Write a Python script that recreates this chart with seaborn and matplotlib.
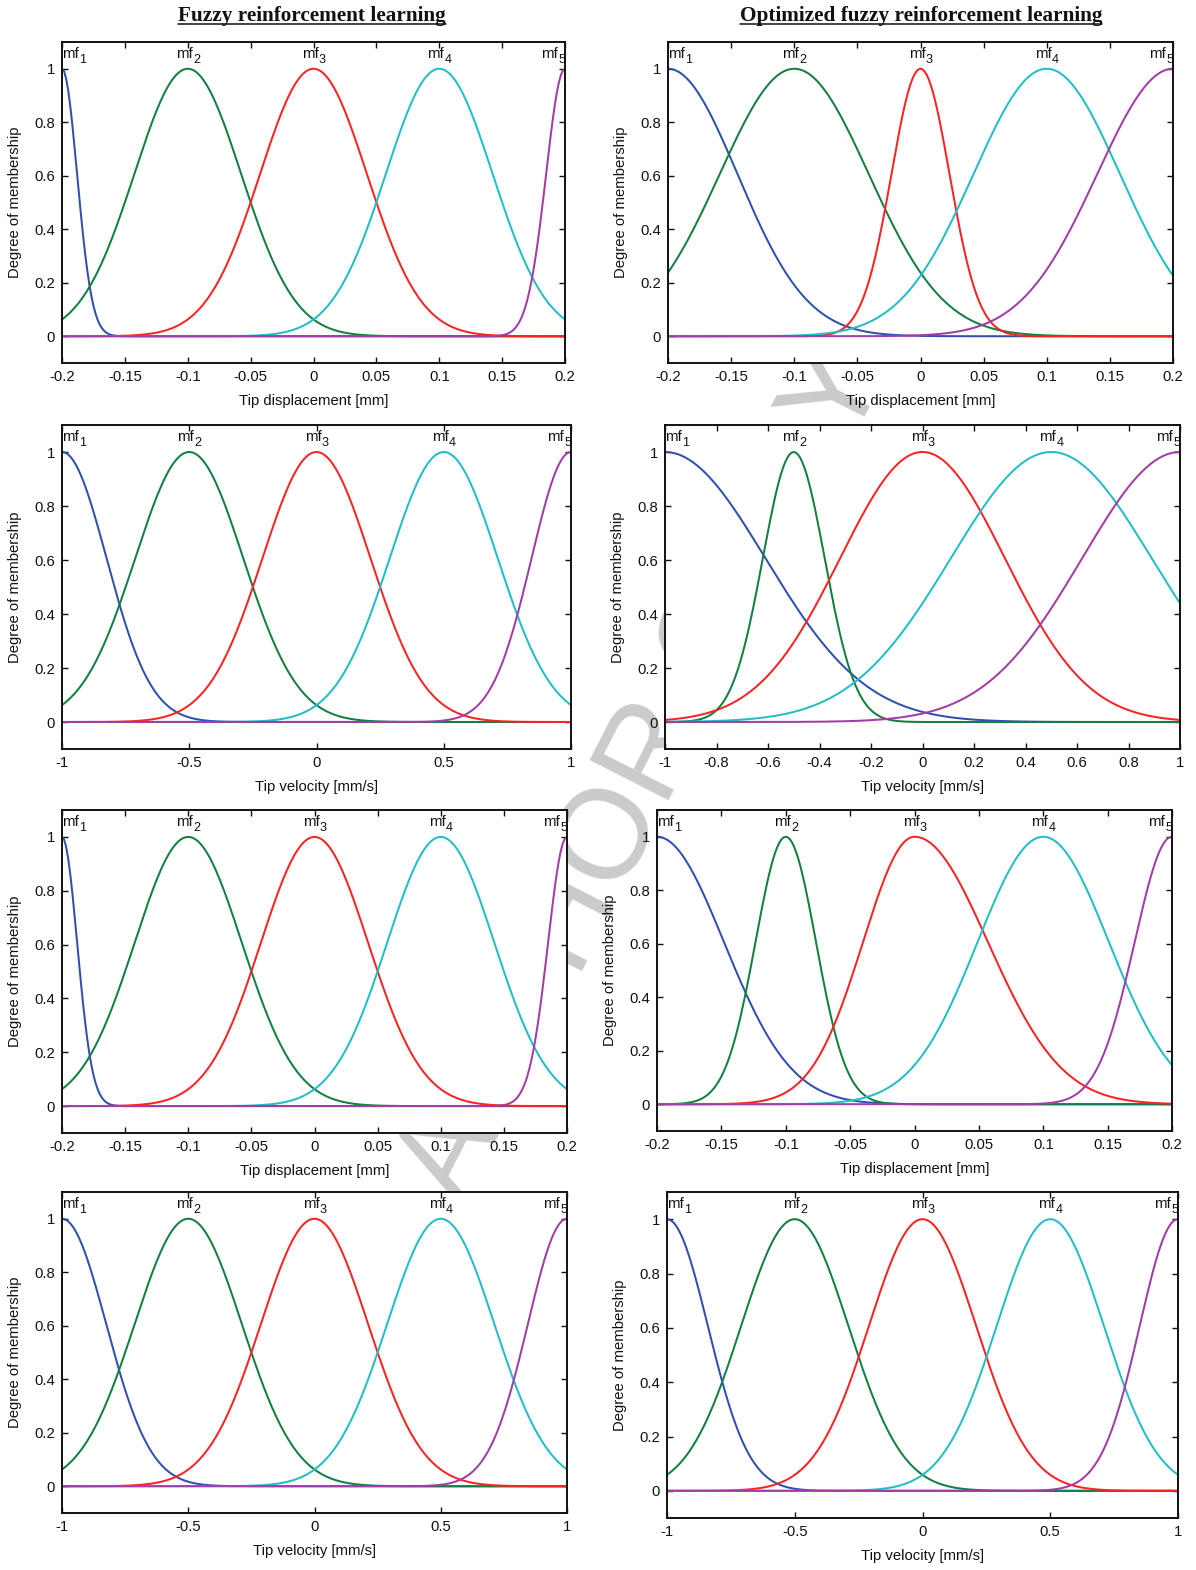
import numpy as np
import pandas as pd
import matplotlib
matplotlib.use("Agg")
import matplotlib.pyplot as plt
from matplotlib.lines import Line2D
from matplotlib.font_manager import FontProperties
from matplotlib.transforms import offset_copy
import seaborn as sns

# ---------------------------------------------------------------------------
# Membership-function parameters (Gaussian: centre, left / right spread)
# ---------------------------------------------------------------------------
mf_names = ["mf1", "mf2", "mf3", "mf4", "mf5"]
mf_colors = ["#3050b0", "#128040", "#f82424", "#22bec6", "#a23ca6"]

disp_range = [-0.2, 0.2]
vel_range = [-1.0, 1.0]
disp_ticks = [-0.2, -0.15, -0.1, -0.05, 0, 0.05, 0.1, 0.15, 0.2]
vel_ticks_coarse = [-1, -0.5, 0, 0.5, 1]
vel_ticks_fine = [-1, -0.8, -0.6, -0.4, -0.2, 0, 0.2, 0.4, 0.6, 0.8, 1]
degree_ticks = [0, 0.2, 0.4, 0.6, 0.8, 1]

# Fuzzy reinforcement learning – tip displacement
frl_disp_centers = [-0.2, -0.1, 0.0, 0.1, 0.2]
frl_disp_sigma_l = [0.012, 0.0425, 0.0425, 0.0425, 0.015]
frl_disp_sigma_r = [0.012, 0.0425, 0.0425, 0.0425, 0.015]

# Fuzzy reinforcement learning – tip velocity
frl_vel_centers = [-1.0, -0.5, 0.0, 0.5, 1.0]
frl_vel_sigma_l = [0.175, 0.2123, 0.2123, 0.2123, 0.155]
frl_vel_sigma_r = [0.175, 0.2123, 0.2123, 0.2123, 0.155]

# Optimized FRL – tip displacement (first set)
ofrl_disp1_centers = [-0.2, -0.1, 0.0, 0.1, 0.2]
ofrl_disp1_sigma_l = [0.055, 0.059, 0.023, 0.058, 0.060]
ofrl_disp1_sigma_r = [0.055, 0.059, 0.023, 0.058, 0.060]

# Optimized FRL – tip velocity (first set)
ofrl_vel1_centers = [-1.0, -0.5, 0.0, 0.5, 1.0]
ofrl_vel1_sigma_l = [0.39, 0.12, 0.32, 0.39, 0.38]
ofrl_vel1_sigma_r = [0.39, 0.12, 0.32, 0.39, 0.38]

# Optimized FRL – tip displacement (second set)
ofrl_disp2_centers = [-0.2, -0.1, 0.0, 0.1, 0.2]
ofrl_disp2_sigma_l = [0.052, 0.0235, 0.040, 0.051, 0.029]
ofrl_disp2_sigma_r = [0.052, 0.0235, 0.057, 0.051, 0.029]

# Optimized FRL – tip velocity (second set)
ofrl_vel2_centers = [-1.0, -0.5, 0.0, 0.5, 1.0]
ofrl_vel2_sigma_l = [0.16, 0.21, 0.21, 0.21, 0.15]
ofrl_vel2_sigma_r = [0.16, 0.21, 0.21, 0.21, 0.15]

column_titles = ["Fuzzy reinforcement learning",
                 "Optimized fuzzy reinforcement learning"]
ylabel_text = "Degree of membership"
xlabel_disp = "Tip displacement [mm]"
xlabel_vel = "Tip velocity [mm/s]"
watermark_text = "AUTHOR COPY"

# ---------------------------------------------------------------------------
sns.set_style("ticks")
plt.rcParams["font.family"] = ["Liberation Sans", "DejaVu Sans"]
plt.rcParams["axes.unicode_minus"] = False
for key in ["text.color", "axes.labelcolor", "xtick.color", "ytick.color",
            "axes.edgecolor"]:
    plt.rcParams[key] = "#111111"

W, H = 1196, 1570
fig = plt.figure(figsize=(W / 100, H / 100), dpi=100)
fig.patch.set_facecolor("white")
renderer = fig.canvas.get_renderer()


def rect(x0, x1, y0, y1):
    return [x0 / W, 1 - y1 / H, (x1 - x0) / W, (y1 - y0) / H]


panels = [
    # left column
    dict(rect=rect(62, 565, 42, 363), c=frl_disp_centers, sl=frl_disp_sigma_l,
         sr=frl_disp_sigma_r, xr=disp_range, xt=disp_ticks, xl=xlabel_disp, narrow=False),
    dict(rect=rect(62, 571, 425, 749), c=frl_vel_centers, sl=frl_vel_sigma_l,
         sr=frl_vel_sigma_r, xr=vel_range, xt=vel_ticks_coarse, xl=xlabel_vel, narrow=False),
    dict(rect=rect(62, 567, 810, 1133), c=frl_disp_centers, sl=frl_disp_sigma_l,
         sr=frl_disp_sigma_r, xr=disp_range, xt=disp_ticks, xl=xlabel_disp, narrow=False),
    dict(rect=rect(62, 567, 1192, 1513), c=frl_vel_centers, sl=frl_vel_sigma_l,
         sr=frl_vel_sigma_r, xr=vel_range, xt=vel_ticks_coarse, xl=xlabel_vel, narrow=False),
    # right column
    dict(rect=rect(668, 1173, 42, 363), c=ofrl_disp1_centers, sl=ofrl_disp1_sigma_l,
         sr=ofrl_disp1_sigma_r, xr=disp_range, xt=disp_ticks, xl=xlabel_disp, narrow=False),
    dict(rect=rect(665, 1180, 425, 749), c=ofrl_vel1_centers, sl=ofrl_vel1_sigma_l,
         sr=ofrl_vel1_sigma_r, xr=vel_range, xt=vel_ticks_fine, xl=xlabel_vel, narrow=True),
    dict(rect=rect(657, 1172, 810, 1131), c=ofrl_disp2_centers, sl=ofrl_disp2_sigma_l,
         sr=ofrl_disp2_sigma_r, xr=disp_range, xt=disp_ticks, xl=xlabel_disp, narrow=True),
    dict(rect=rect(667, 1178, 1192, 1518), c=ofrl_vel2_centers, sl=ofrl_vel2_sigma_l,
         sr=ofrl_vel2_sigma_r, xr=vel_range, xt=vel_ticks_coarse, xl=xlabel_vel, narrow=False),
]

FS = 10.7
SUB_FS = FS * 0.85
fp_main = FontProperties(family="Liberation Sans", size=FS)
fp_sub = FontProperties(family="Liberation Sans", size=SUB_FS)


def membership(x, c, sl, sr):
    s = np.where(x < c, sl, sr)
    return np.exp(-((x - c) ** 2) / (2.0 * s ** 2))


def fmt(v):
    return f"{v:g}"


def text_width(s, fp):
    return renderer.get_text_width_height_descent(s, fp, ismath=False)[0]


def mf_label(ax, xpos, ha, idx):
    """'mf' followed by a lowered subscript index, aligned as one label."""
    digit = str(idx)
    w_mf = text_width("mf", fp_main)
    w_d = text_width(digit, fp_sub)
    total = w_mf + w_d
    start = {"left": 0.0, "center": -total / 2.0, "right": -total}[ha]
    ax.text(xpos, 1.04, "mf", ha="left", va="baseline", fontproperties=fp_main,
            clip_on=False,
            transform=offset_copy(ax.transData, fig=fig, x=start, y=0, units="dots"))
    ax.text(xpos, 1.04, digit, ha="left", va="baseline", fontproperties=fp_sub,
            clip_on=False,
            transform=offset_copy(ax.transData, fig=fig, x=start + w_mf + 0.5,
                                  y=-5, units="dots"))


# Watermark sits behind the axes
fig.text(645 / W, 1 - 775 / H, watermark_text, rotation=63, color="#cbcbcb",
         fontsize=92, ha="center", va="center", rotation_mode="anchor",
         zorder=-1, family=["Liberation Sans", "DejaVu Sans"])

for p in panels:
    ax = fig.add_axes(p["rect"])
    ax.set_facecolor("white")
    lo, hi = p["xr"]
    grid = np.linspace(lo, hi, 241)
    frames = []
    for name, c, sl, sr in zip(mf_names, p["c"], p["sl"], p["sr"]):
        frames.append(pd.DataFrame({"x": grid,
                                    "degree": membership(grid, c, sl, sr),
                                    "mf": name}))
    df = pd.concat(frames, ignore_index=True)
    sns.lineplot(data=df, x="x", y="degree", hue="mf", hue_order=mf_names,
                 palette=dict(zip(mf_names, mf_colors)), legend=False,
                 estimator=None, sort=False, linewidth=1.45, ax=ax)

    ax.set_xlim(lo, hi)
    ax.set_ylim(-0.1, 1.1)
    ax.set_xticks(p["xt"])
    ax.set_xticklabels([fmt(v) for v in p["xt"]])
    ax.set_yticks(degree_ticks)
    ax.set_yticklabels([fmt(v) for v in degree_ticks])
    ax.tick_params(direction="in", top=True, right=True, length=4.5, width=1.0,
                   labelsize=FS, pad=5)
    for sp in ax.spines.values():
        sp.set_visible(True)
        sp.set_linewidth(1.4)
        sp.set_color("#111111")

    ax.set_xlabel(p["xl"], fontsize=FS, labelpad=7)
    if p["narrow"]:
        ax.set_ylabel(ylabel_text, fontsize=FS, labelpad=9,
                      family=["Liberation Sans Narrow", "Liberation Sans"])
    else:
        ax.set_ylabel(ylabel_text, fontsize=FS, labelpad=9)

    # mf labels above each peak
    span = hi - lo
    for i, c in enumerate(p["c"]):
        if c <= lo + 0.03 * span:
            xpos, ha = lo, "left"
        elif c >= hi - 0.03 * span:
            xpos, ha = hi, "right"
        else:
            xpos, ha = c, "center"
        mf_label(ax, xpos, ha, i + 1)

# Column titles with underline
title_x = [312 / W, 921 / W]
baseline_y = 1 - 21 / H
for tx, title in zip(title_x, column_titles):
    t = fig.text(tx, baseline_y, title, ha="center", va="baseline",
                 fontsize=15.3, fontweight="bold",
                 family=["Liberation Serif", "DejaVu Serif"])
    bb = t.get_window_extent(renderer=renderer)
    uy = baseline_y - 3.0 / H
    fig.add_artist(Line2D([bb.x0 / W, bb.x1 / W], [uy, uy],
                          transform=fig.transFigure, color="#111111", lw=1.1))

fig.savefig("out.png", dpi=100, facecolor="white")
